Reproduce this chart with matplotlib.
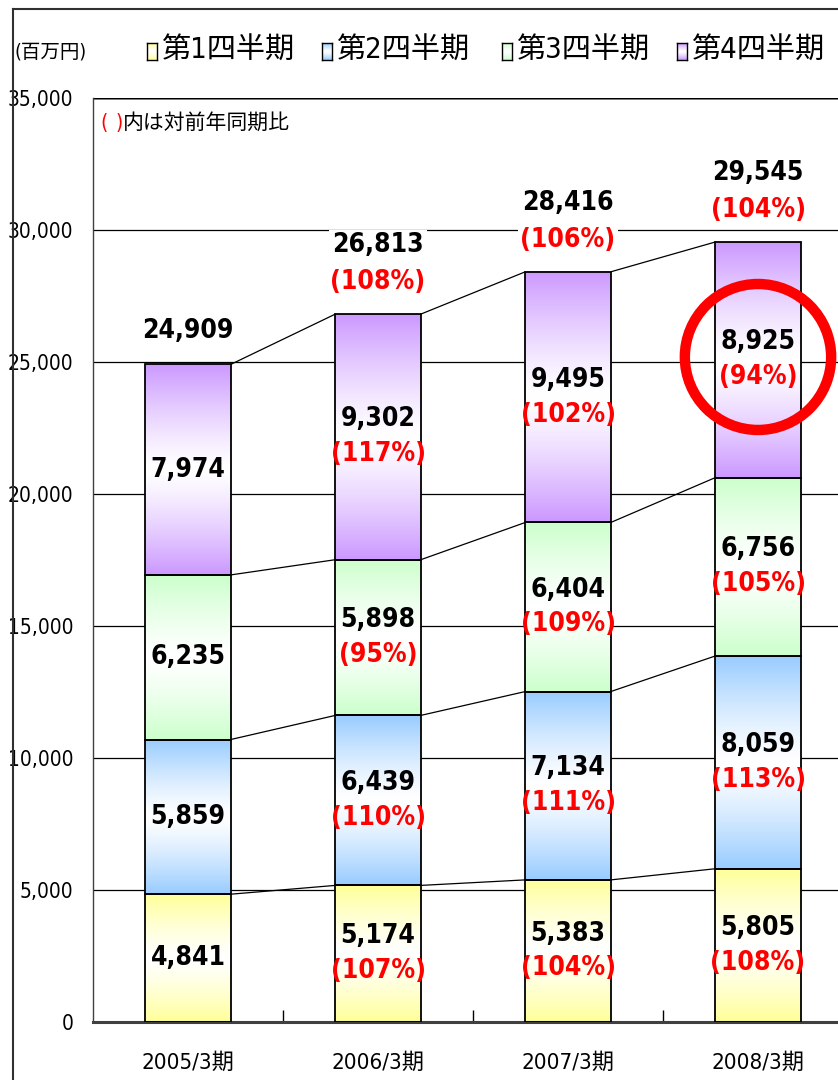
import numpy as np
import matplotlib
matplotlib.use("Agg")
import matplotlib.pyplot as plt
from matplotlib import font_manager
from matplotlib.lines import Line2D
from matplotlib.patches import Ellipse

# pick a narrow latin font if one is installed
ttf = font_manager.fontManager.ttflist
names = {f.name for f in ttf}
narrow = None
if 'Liberation Sans Narrow' in names:
    narrow = 'Liberation Sans Narrow'
else:
    cond = [f.name for f in ttf if f.stretch in ('condensed', 'semi-condensed', 'extra-condensed', 500)]
    if cond:
        narrow = cond[0]
fams = ([narrow] if narrow else []) + ['Noto Sans CJK JP', 'DejaVu Sans']
plt.rcParams['font.family'] = fams
plt.rcParams['font.stretch'] = 'condensed'

# data
periods = ['2005/3期', '2006/3期', '2007/3期', '2008/3期']
quarter_names = ['第1四半期', '第2四半期', '第3四半期', '第4四半期']
q1 = [4841, 5174, 5383, 5805]
q2 = [5859, 6439, 7134, 8059]
q3 = [6235, 5898, 6404, 6756]
q4 = [7974, 9302, 9495, 8925]
totals = [24909, 26813, 28416, 29545]
q1_pct = [None, 107, 104, 108]
q2_pct = [None, 110, 111, 113]
q3_pct = [None, 95, 109, 105]
q4_pct = [None, 117, 102, 94]
total_pct = [None, 108, 106, 104]

colors = ['#FFFF99', '#99CCFF', '#CCFFCC', '#CC99FF']

W, H = 838, 1080
fig = plt.figure(figsize=(W / 100, H / 100), dpi=100)
ax = fig.add_axes([93 / W, 1 - 1022 / H, 760 / W, (1022 - 98) / H])


def grad(color, n=100):
    c = np.array(matplotlib.colors.to_rgb(color))
    t = np.linspace(0, 1, n)
    w = np.abs(2 * t - 1) ** 1.3
    img = (1 - w)[:, None] * np.ones(3) + w[:, None] * c
    return img[:, None, :]


series = [q1, q2, q3, q4]
pcts = [q1_pct, q2_pct, q3_pct, q4_pct]
bw = 0.45
x = np.arange(len(periods))
bottoms = np.zeros(len(periods))
levels = []
for s, (vals, col) in enumerate(zip(series, colors)):
    vals = np.array(vals)
    for i in range(len(periods)):
        ax.imshow(grad(col), extent=(x[i] - bw / 2, x[i] + bw / 2, bottoms[i], bottoms[i] + vals[i]),
                  aspect='auto', zorder=2, interpolation='bilinear')
    ax.bar(x, vals, bw, bottom=bottoms, facecolor='none', edgecolor='black', linewidth=1.3, zorder=3)
    for i in range(len(periods)):
        cy = bottoms[i] + vals[i] / 2
        if pcts[s][i] is None:
            ax.text(x[i], cy, f'{vals[i]:,}', ha='center', va='center', fontsize=19,
                    fontweight='bold', zorder=5)
        else:
            ax.text(x[i], cy + 660, f'{vals[i]:,}', ha='center', va='center', fontsize=19,
                    fontweight='bold', zorder=5)
            ax.text(x[i], cy - 660, f'({pcts[s][i]}%)', ha='center', va='center', fontsize=19,
                    fontweight='bold', color='red', zorder=5)
    bottoms = bottoms + vals
    levels.append(bottoms.copy())

# connector lines
for lv in levels:
    for i in range(len(periods) - 1):
        ax.plot([x[i] + bw / 2, x[i + 1] - bw / 2], [lv[i], lv[i + 1]], color='black', lw=0.9, zorder=1.5)

# totals
for i in range(len(periods)):
    bb = dict(facecolor='white', edgecolor='none', pad=2)
    if total_pct[i] is None:
        ax.text(x[i], totals[i] + 1280, f'{totals[i]:,}', ha='center', va='center', fontsize=19,
                fontweight='bold', zorder=5, bbox=bb)
    else:
        ax.text(x[i], totals[i] + 2600, f'{totals[i]:,}', ha='center', va='center', fontsize=19,
                fontweight='bold', zorder=5, bbox=bb)
        ax.text(x[i], totals[i] + 1200, f'({total_pct[i]}%)', ha='center', va='center', fontsize=19,
                fontweight='bold', color='red', zorder=5, bbox=bb)

# highlight circle
ax.add_patch(Ellipse((3, 25190), 0.77, 5530, fill=False, edgecolor='#FF0000', lw=7.5, zorder=6,
                     clip_on=False))

ax.set_xlim(-0.5, 3.5)
ax.set_ylim(0, 35000)
ax.set_yticks(np.arange(0, 35001, 5000))
ax.set_yticklabels([f'{v:,}' for v in range(0, 35001, 5000)], fontsize=15)
ax.yaxis.grid(True, color='black', lw=0.9, zorder=0)
ax.axhline(35000, color='#808080', lw=2, zorder=0.5)
ax.set_axisbelow(True)
ax.tick_params(axis='y', length=0, pad=14)
ax.set_xticks([0.5, 1.5, 2.5], minor=True)
ax.set_xticks(x)
ax.set_xticklabels(periods, fontsize=16)
ax.tick_params(axis='x', which='major', length=0, pad=22)
ax.tick_params(axis='x', which='minor', direction='in', length=9, width=1, color='black')
for sp in ['top', 'right']:
    ax.spines[sp].set_visible(False)
ax.spines['left'].set_color('#404040')
ax.spines['left'].set_linewidth(1)
ax.spines['bottom'].set_color('#404040')
ax.spines['bottom'].set_linewidth(2.2)

# outer frame
fig.add_artist(Line2D([13 / W, 13 / W], [0, 1 - 9 / H], color='#303030', lw=1.5))
fig.add_artist(Line2D([13 / W, 1], [1 - 9 / H, 1 - 9 / H], color='#303030', lw=1.5))

# unit and legend
fig.text(14 / W, 1 - 52 / H, '(百万円)', fontsize=14, ha='left', va='center')
leg_x = [147, 322, 502, 677]
for lx, name, col in zip(leg_x, quarter_names, colors):
    lax = fig.add_axes([lx / W, 1 - 60 / H, 10 / W, 17 / H])
    lax.imshow(grad(col, 20), aspect='auto', extent=(0, 1, 0, 1))
    lax.set_xticks([])
    lax.set_yticks([])
    for sp in lax.spines.values():
        sp.set_color('black')
        sp.set_linewidth(1)
    fig.text((lx + 14) / W, 1 - 51 / H, name, fontsize=21, ha='left', va='center')

# note
fig.text(100 / W, 1 - 123 / H, '(', fontsize=15, color='red', ha='left', va='center')
fig.text(116 / W, 1 - 123 / H, ')', fontsize=15, color='red', ha='left', va='center')
fig.text(123 / W, 1 - 123 / H, '内は対前年同期比', fontsize=15, ha='left', va='center')

fig.savefig('out.png', dpi=100)
